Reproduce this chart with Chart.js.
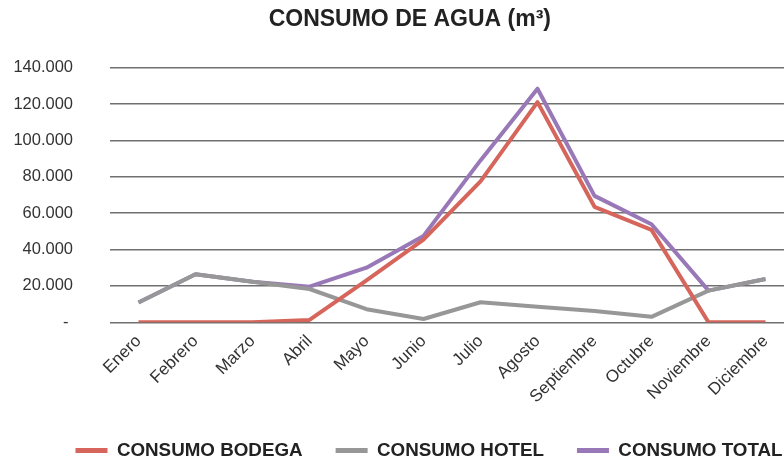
<!DOCTYPE html>
<html>
<head>
<meta charset="utf-8">
<script src="https://cdn.jsdelivr.net/npm/chart.js@4/dist/chart.umd.min.js"></script>
<style>
  html, body { margin: 0; padding: 0; background: #fff; overflow: hidden; }
  #caja { width: 832px; height: 461px; }
</style>
</head>
<body>
<div id="caja"><canvas id="graficoAgua"></canvas></div>
<script>
// Datos (m3 por mes)
const meses = ['Enero', 'Febrero', 'Marzo', 'Abril', 'Mayo', 'Junio', 'Julio',
               'Agosto', 'Septiembre', 'Octubre', 'Noviembre', 'Diciembre'];
const consumoBodega = [0, 0, 0, 1300, 23000, 45500, 77500, 121000, 63500, 50800, 0, 0];
const consumoHotel  = [10900, 26400, 22300, 18300, 7200, 1800, 11000, 8500, 6200, 3000, 17400, 23800];
const consumoTotal  = [10900, 26400, 22300, 19600, 30000, 47500, 89000, 128400, 69500, 53900, 17400, 23800];
const ticksY = [0, 20000, 40000, 60000, 80000, 100000, 120000, 140000];

const fuente = 'Liberation Sans, Arial, Helvetica, sans-serif';

// formato español: 140.000, y el cero como guion
function formatoMiles(v) {
    if (v === 0) return '- ';
    return String(v).replace(/\B(?=(\d{3})+(?!\d))/g, '.');
}

function serie(nombre, datos, color) {
    return {
        label: nombre,
        data: datos,
        borderColor: color,
        backgroundColor: color,
        borderWidth: 4,
        pointRadius: 0,
        tension: 0,
        borderJoinStyle: 'round'
    };
}

const ctx = document.getElementById('graficoAgua').getContext('2d');
new Chart(ctx, {
    type: 'line',
    data: {
        labels: meses,
        datasets: [
            serie('CONSUMO BODEGA', consumoBodega, '#d6655c'),
            serie('CONSUMO HOTEL', consumoHotel, '#979797'),
            serie('CONSUMO TOTAL', consumoTotal, '#9878b6')
        ]
    },
    options: {
        responsive: true,
        maintainAspectRatio: false,
        animation: false,
        // el original está recortado a la derecha: el lienzo es más ancho que la ventana
        layout: { padding: { left: 28, right: 2, top: 4, bottom: -9 } },
        plugins: {
            title: {
                display: true,
                text: 'CONSUMO DE AGUA (m³)\u00a0\u00a0\u00a0\u00a0\u00a0\u00a0',
                color: '#222',
                font: { family: fuente, size: 23, weight: 'bold' },
                padding: { top: 2, bottom: 34 }
            },
            legend: {
                position: 'bottom',
                labels: {
                    color: '#222',
                    font: { family: fuente, size: 18.8, weight: 'bold' },
                    boxWidth: 32,
                    boxHeight: 5,
                    padding: 33,
                    generateLabels: function(chart) {
                        const items = Chart.defaults.plugins.legend.labels.generateLabels(chart);
                        items.forEach(function(it) { it.lineWidth = 0; });
                        return items;
                    }
                }
            },
            tooltip: { enabled: false }
        },
        scales: {
            x: {
                offset: true,
                grid: { display: false },
                border: { display: false },
                ticks: {
                    color: '#333',
                    font: { family: fuente, size: 17 },
                    maxRotation: 45,
                    minRotation: 45,
                    padding: 1
                }
            },
            y: {
                min: 0,
                max: 140000,
                afterBuildTicks: function(axis) {
                    axis.ticks = ticksY.map(function(v) { return { value: v }; });
                },
                afterFit: function(axis) {
                    axis.width = 82; // área del gráfico empieza en x=110
                },
                grid: { color: '#707070', lineWidth: 1.5, drawTicks: false },
                border: { display: false },
                ticks: {
                    color: '#333',
                    font: { family: fuente, size: 16.5 },
                    mirror: true,
                    crossAlign: 'far',
                    padding: -96.6,
                    callback: function(v) { return formatoMiles(v); }
                }
            },
            // eje vacío a la derecha: reserva la parte recortada del original
            margenDerecho: {
                type: 'linear',
                position: 'right',
                display: true,
                grid: { display: false },
                border: { display: false },
                ticks: { display: false },
                afterFit: function(axis) {
                    axis.width = 36;
                }
            }
        }
    }
});
</script>
</body>
</html>
